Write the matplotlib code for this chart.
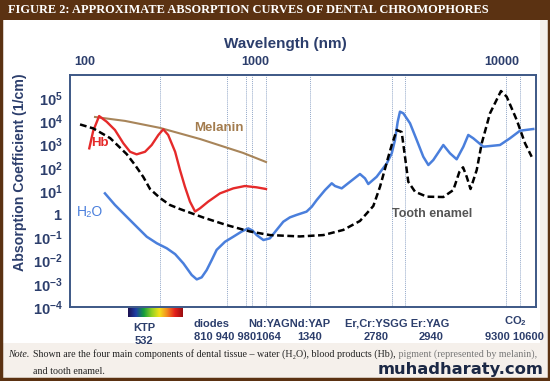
import numpy as np
import matplotlib
matplotlib.use("Agg")
import matplotlib.pyplot as plt
from matplotlib.patches import Rectangle
from matplotlib.colors import LinearSegmentedColormap

plt.rcParams['font.family'] = ['Liberation Sans', 'DejaVu Sans']
plt.rcParams['mathtext.fontset'] = 'custom'
plt.rcParams['mathtext.rm'] = 'Liberation Sans'
plt.rcParams['mathtext.bf'] = 'Liberation Sans:bold'

# ---- data (wavelength in nm, absorption in 1/cm) ----
melanin_nm = [125, 244, 532, 684, 918, 1064]
melanin = [15500, 10500, 5250, 1740, 440, 178]

hb_nm = [110, 120, 137, 162, 195, 235, 273, 316, 381, 442, 513, 543, 560, 585, 603,
         622, 642, 663, 684, 720, 775, 851, 932, 1007, 1064]
hb = [690, 3870, 17000, 9700, 4260, 1140, 490, 380, 490, 960, 2600, 4570, 2600, 490, 81,
      15.4, 3.5, 1.3, 1.8, 3.5, 7.9, 13, 16.4, 14.4, 12.2]

water_nm = [156, 195, 253, 316, 396, 495, 555, 585, 616, 649,
            670, 691, 713, 736, 759, 800, 851, 909, 955, 984,
            1007, 1048, 1086, 1125, 1165, 1206, 1249, 1316, 1361, 1423,
            1532, 1626, 1674, 1777, 1914, 2090, 2186, 2251, 2425, 2655,
            2774, 2816, 2849, 2877, 2919, 3113, 3360, 3622, 3837, 4060,
            4551, 4910, 5298, 5719, 6050, 6404, 7183, 8682, 9650, 10600, 12000]
water = [7.9, 2.5, 0.78, 0.29, 0.107, 0.056, 0.034, 0.019, 0.0076, 0.0024,
         0.00155, 0.0019, 0.0039, 0.0106, 0.029, 0.065, 0.107, 0.18, 0.245, 0.195,
         0.126, 0.077, 0.091, 0.21, 0.475, 0.73, 0.93, 1.29, 2.1, 4.1,
         11, 21.5, 16.4, 13, 25, 54, 35, 20, 41, 156,
         422, 1580, 9700, 26200, 22300, 8300, 1580, 300, 132, 217,
         960, 422, 233, 811, 2600, 1870, 811, 960, 1870, 3970, 4700]

enamel_nm = [89.5, 120, 175, 253, 305, 367, 426, 532, 566, 603,
             698, 808, 966, 1086, 1271, 1509, 1802, 2090, 2354, 2499,
             2691, 2774, 2837, 2898, 2940, 3052, 3296, 3766, 4551, 5100,
             5463, 5700, 5942, 6206, 6662, 7053, 7750, 8782, 9360, 10280,
             11110, 11820]
enamel = [7400, 5000, 1910, 390, 132, 40, 12.2, 5.0, 2.5, 1.67,
          0.72, 0.34, 0.18, 0.126, 0.11, 0.126, 0.21, 0.51, 2.25, 15.3,
          300, 960, 4260, 3480, 300, 25, 9.3, 5.7, 5.5, 11,
          66, 105, 41, 12.2, 81, 1140, 22400, 204000, 116000, 11500,
          1140, 300]

laser_nm = [532, 810, 940, 980, 1064, 1340, 2780, 2940, 9300, 10600]
top_ticks = [100, 1000, 10000]
y_ticks = [1e-4, 1e-3, 1e-2, 1e-1, 1, 1e1, 1e2, 1e3, 1e4, 1e5]
y_labels = [r'$\mathbf{10^{-4}}$', r'$\mathbf{10^{-3}}$', r'$\mathbf{10^{-2}}$', r'$\mathbf{10^{-1}}$',
            r'$\mathbf{1}$', r'$\mathbf{10^{1}}$', r'$\mathbf{10^{2}}$', r'$\mathbf{10^{3}}$',
            r'$\mathbf{10^{4}}$', r'$\mathbf{10^{5}}$']

# the drawn wavelength axis is not a clean log scale: piecewise log mapping
scale_nm = np.log10([50, 100, 532, 810, 940, 980, 1064, 1340, 2780, 2940, 9300, 10600, 20000])
scale_px = np.array([54, 85, 160, 227, 246, 252, 266, 310, 392, 405, 506, 520, 588], float)
# the printed top scale (100 / 1000 / 10000) disagrees slightly with the laser lines
top_log = np.array([1.506, 2, 3, 4, 4.808])
top_px = np.array([0, 85, 255, 502, 700], float)


def fwd(x):
    x = np.clip(np.asarray(x, float), 1e-6, None)
    return np.interp(np.log10(x), scale_nm, scale_px)


def inv(p):
    return 10 ** np.interp(np.asarray(p, float), scale_px, scale_nm)


def from_top(t):
    return inv(np.interp(np.log10(t), top_log, top_px))


W, H = 550, 381
fx = lambda px: px / W
fy = lambda py: 1 - py / H

NAVY = '#2c3e6c'
BROWN = '#5b3212'

fig = plt.figure(figsize=(5.5, 3.81), dpi=100)
fig.patch.set_facecolor('#f5f0eb')
fig.patches.append(Rectangle((fx(3), fy(343)), fx(537), 323 / H, transform=fig.transFigure,
                             facecolor='white', edgecolor='none', zorder=-2))
fig.patches.append(Rectangle((0, fy(20)), 1, 20 / H, transform=fig.transFigure,
                             facecolor=BROWN, edgecolor='none', zorder=-1))
fig.patches.append(Rectangle((0.002, 0.004), 0.996, 0.99, transform=fig.transFigure,
                             facecolor='none', edgecolor=BROWN, lw=2.5, zorder=-1))
fig.text(fx(8), fy(10), 'FIGURE 2: APPROXIMATE ABSORPTION CURVES OF DENTAL CHROMOPHORES',
         family=['Liberation Serif', 'DejaVu Serif'], weight='bold', color='white',
         fontsize=8.9, va='center', ha='left')

ax = fig.add_axes([fx(70), fy(307), 466 / W, 232 / H])
ax.set_xscale('function', functions=(fwd, inv))
ax.set_yscale('log')
ax.set_xlim(inv(70), inv(536))
ax.set_ylim(1e-4, 1e6)

for wl in laser_nm:
    ax.axvline(wl, color='#93a8c9', lw=0.7, ls=(0, (1, 1)), zorder=1)

ax.plot(melanin_nm, melanin, color='#a8855a', lw=1.5, zorder=3)
ax.plot(hb_nm, hb, color='#e52a2a', lw=1.7, zorder=4, solid_joinstyle='round')
ax.plot(water_nm, water, color='#4a7fdc', lw=1.8, zorder=5, solid_joinstyle='round')
ax.plot(enamel_nm, enamel, color='black', lw=1.8, ls=(0, (2.7, 1.4)), zorder=6)

ax.text(inv(219), 10 ** ((307 - 128) / 23.2 - 4), 'Melanin', color='#a37c4e', weight='bold',
        fontsize=9.5, ha='center', va='center')
ax.text(inv(100), 10 ** ((307 - 143) / 23.2 - 4), 'Hb', color='#e52a2a', weight='bold',
        fontsize=9.5, ha='center', va='center')
ax.text(inv(90), 10 ** ((307 - 212) / 23.2 - 4), 'H\u2082O', color='#4a7fdc',
        fontsize=10, ha='center', va='center')
ax.text(inv(432), 10 ** ((307 - 214) / 23.2 - 4), 'Tooth enamel', color='#555555', weight='bold',
        fontsize=9, ha='center', va='center')

ax.xaxis.tick_top()
ax.set_xticks([from_top(t) for t in top_ticks])
ax.set_xticklabels([str(t) for t in top_ticks])
ax.xaxis.set_minor_locator(matplotlib.ticker.NullLocator())
ax.tick_params(axis='x', length=0, pad=5, labelsize=9, labelcolor=NAVY)
for lab in ax.get_xticklabels():
    lab.set_fontweight('bold')

ax.set_yticks(y_ticks)
ax.set_yticklabels(y_labels)
ax.yaxis.set_minor_locator(matplotlib.ticker.NullLocator())
ax.tick_params(axis='y', length=0, pad=5, labelsize=10.5, labelcolor=NAVY)

for s in ax.spines.values():
    s.set_color('#3d5886')
    s.set_linewidth(1.4)

fig.text(fx(285), fy(44), 'Wavelength (nm)', color=NAVY, weight='bold', fontsize=11,
         ha='center', va='center')
fig.text(fx(20), fy(172), 'Absorption Coefficient (1/cm)', color=NAVY, weight='bold',
         fontsize=10.2, ha='center', va='center', rotation=90)

# spectrum bar under KTP
cmap = LinearSegmentedColormap.from_list('ktp', ['#1c1150', '#1d3ea6', '#139c3c', '#8fd024',
                                                 '#f4e21c', '#f38a1e', '#e4201c', '#9a0d10'])
bar = fig.add_axes([fx(128), fy(317), 55 / W, 9 / H])
bar.imshow(np.linspace(0, 1, 200)[None, :], aspect='auto', cmap=cmap)
bar.axis('off')

lab_kw = dict(color=NAVY, weight='bold', fontsize=8, va='center')
fig.text(fx(144), fy(328), 'KTP', ha='center', **lab_kw)
fig.text(fx(144), fy(341), '532', ha='center', **lab_kw)
fig.text(fx(194), fy(324), 'diodes', ha='left', **lab_kw)
fig.text(fx(194), fy(337), '810 940 9801064', ha='left', **lab_kw)
fig.text(fx(248), fy(324), 'Nd:YAGNd:YAP', ha='left', **lab_kw)
fig.text(fx(310), fy(337), '1340', ha='center', **lab_kw)
fig.text(fx(345), fy(324), 'Er,Cr:YSGG Er:YAG', ha='left', **lab_kw)
fig.text(fx(376), fy(337), '2780', ha='center', **lab_kw)
fig.text(fx(431), fy(337), '2940', ha='center', **lab_kw)
fig.text(fx(515), fy(321), 'CO$_\\mathbf{2}$', ha='center', **lab_kw)
fig.text(fx(514), fy(337), '9300 10600', ha='center', **lab_kw)

serif = ['Liberation Serif', 'DejaVu Serif']
fig.text(fx(8), fy(357), 'Note.', family=serif, style='italic', fontsize=7.2,
         va='baseline', color='#222222')
t2 = fig.text(fx(33), fy(357),
              'Shown are the four main components of dental tissue \u2013 water (H\u2082O), blood products (Hb),',
              family=serif, fontsize=7.2, va='baseline', color='#222222')
ax.annotate(' pigment (represented by melanin),', xy=(1, 0), xycoords=t2, va='bottom',
            family=serif, fontsize=7.2, color='#777777', annotation_clip=False)
fig.text(fx(33), fy(374), 'and tooth enamel.', family=serif, fontsize=7.2, va='baseline',
         color='#222222')
fig.text(fx(461), fy(374), 'muhadharaty.com', family=['DejaVu Sans'], weight='bold',
         fontsize=11.8, color='#1b2845', ha='center', va='baseline')

fig.savefig('out.png', dpi=100)
plt.close(fig)
